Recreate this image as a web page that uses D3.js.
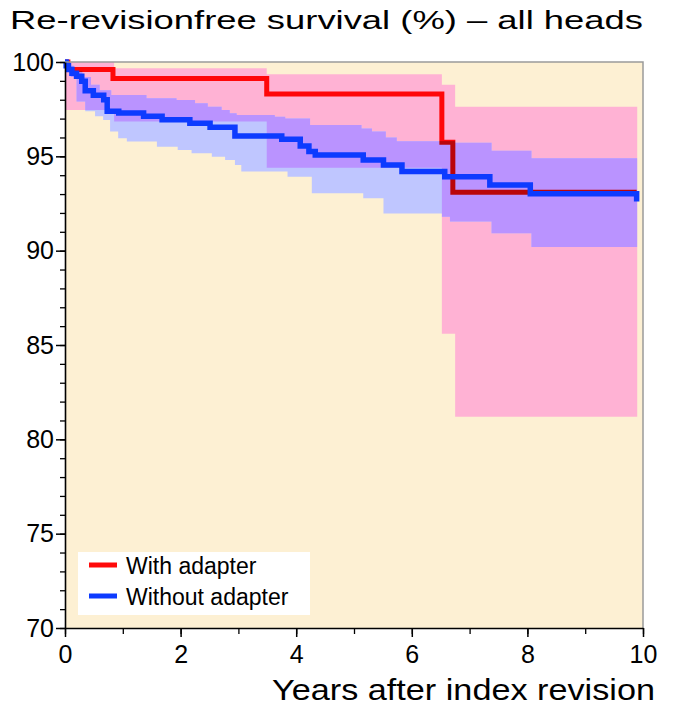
<!DOCTYPE html>
<html>
<head>
<meta charset="utf-8">
<script src="https://cdn.jsdelivr.net/npm/d3@7"></script>
<style>
  html, body { margin: 0; padding: 0; background: #fff; }
  svg text { font-family: "Liberation Sans", Arial, Helvetica, sans-serif; fill: #000; }
</style>
</head>
<body>
<svg id="chart" width="683" height="714"></svg>
<script>
// ---- Data ----
const titleText = "Re-revisionfree survival (%) \u2013 all heads";
const xTitle = "Years after index revision";
const xTicks = [0, 2, 4, 6, 8, 10];
const yTicks = [70, 75, 80, 85, 90, 95, 100];
const seriesNames = ["With adapter", "Without adapter"];

// With adapter: Kaplan-Meier step curve
const withTime = [0, 0.05, 0.83, 3.49, 6.52, 6.71, 9.89];
const withSurv = [100, 99.6, 99.12, 98.3, 95.74, 93.1, 93.1];
// With adapter: confidence band
const withHiTime = [0, 0.85, 3.49, 6.52, 6.75, 9.9];
const withHi = [100, 99.67, 99.35, 98.8, 97.63, 97.63];
const withLoTime = [0, 0.85, 3.49, 6.52, 6.75, 9.9];
const withLo = [97.45, 96.84, 94.4, 85.6, 81.2, 81.2];

// Without adapter: Kaplan-Meier step curve
const withoutTime = [0, 0.02, 0.06, 0.12, 0.2, 0.29, 0.35, 0.49, 0.67, 0.73, 0.93, 1.36, 1.68, 2.16, 2.51, 2.94, 3.75, 4.07, 4.22, 4.33, 5.16, 5.51, 5.83, 6.57, 7.35, 8.05, 9.89];
const withoutSurv = [100, 99.8, 99.6, 99.4, 99.24, 98.98, 98.48, 98.24, 98.0, 97.39, 97.3, 97.12, 96.94, 96.75, 96.54, 96.08, 95.9, 95.55, 95.25, 95.07, 94.81, 94.54, 94.19, 93.92, 93.48, 93.02, 92.6];
// Without adapter: confidence band
const withoutHiTime = [0, 0.05, 0.15, 0.3, 0.45, 0.6, 0.8, 1.41, 1.93, 2.25, 2.47, 2.71, 2.85, 2.97, 3.63, 3.81, 4.24, 5.13, 5.31, 5.55, 5.74, 6.75, 7.38, 8.07, 9.9];
const withoutHi = [100, 99.8, 99.5, 99.2, 98.8, 98.5, 98.25, 98.08, 97.99, 97.81, 97.63, 97.46, 97.28, 97.19, 97.1, 97.0, 96.66, 96.48, 96.31, 96.0, 95.8, 95.72, 95.3, 94.9, 94.9];
const withoutLoTime = [0, 0.1, 0.2, 0.35, 0.52, 0.66, 0.78, 0.92, 1.07, 1.59, 1.95, 2.19, 2.54, 2.77, 2.94, 3.05, 3.85, 4.27, 5.16, 5.51, 6.52, 6.66, 7.38, 8.07, 9.9];
const withoutLo = [99.7, 99.2, 97.9, 97.39, 97.12, 96.93, 96.31, 95.96, 95.78, 95.51, 95.34, 95.16, 94.98, 94.8, 94.54, 94.2, 93.92, 93.04, 92.78, 91.97, 91.8, 91.54, 90.92, 90.2, 90.2];

// ---- Styles ----
const C = {
  bg: "#FDF0D3", pink: "#FFB2D4", lightBlue: "#BFC6FF", purple: "#BA93FF",
  red: "#FF0A0A", blue: "#0D3BFF", frame: "#9a9a9a"
};

const svg = d3.select("#chart");
const x = d3.scaleLinear().domain([0, 10]).range([65, 643]);
const y = d3.scaleLinear().domain([70, 100]).range([628, 62]);

function zip(ts, vs) { return ts.map((t, i) => ({ t: t, v: vs[i] })); }
function stepLookup(ts, vs, t) {
  let idx = 0;
  for (let i = 0; i < ts.length; i++) if (ts[i] <= t) idx = i;
  return vs[idx];
}
function bandData(hiT, hi, loT, lo) {
  const times = Array.from(new Set(hiT.concat(loT))).sort((a, b) => a - b);
  return times.map(t => ({ t: t, hi: stepLookup(hiT, hi, t), lo: stepLookup(loT, lo, t) }));
}

const area = d3.area().curve(d3.curveStepAfter)
  .x(d => x(d.t)).y0(d => y(d.lo)).y1(d => y(d.hi));
const line = d3.line().curve(d3.curveStepAfter)
  .x(d => x(d.t)).y(d => y(d.v));

const pinkBand = bandData(withHiTime, withHi, withLoTime, withLo);
const blueBand = bandData(withoutHiTime, withoutHi, withoutLoTime, withoutLo);

// Plot background
svg.append("rect").attr("x", x(0)).attr("y", y(100))
  .attr("width", x(10) - x(0)).attr("height", y(70) - y(100)).attr("fill", C.bg);

const defs = svg.append("defs");
defs.append("clipPath").attr("id", "pinkClip")
  .append("path").attr("d", area(pinkBand));

const plot = svg.append("g").style("isolation", "isolate");
plot.append("path").attr("d", area(pinkBand)).attr("fill", C.pink);
plot.append("path").attr("d", area(blueBand)).attr("fill", C.lightBlue);
plot.append("path").attr("d", area(blueBand)).attr("fill", C.purple).attr("clip-path", "url(#pinkClip)");

plot.append("path").datum(zip(withTime, withSurv)).attr("d", line)
  .attr("fill", "none").attr("stroke", C.red).attr("stroke-width", 5)
  .style("mix-blend-mode", "multiply");
plot.append("path").datum(zip(withoutTime, withoutSurv)).attr("d", line)
  .attr("fill", "none").attr("stroke", C.blue).attr("stroke-width", 5.5);

// Frame (top & right)
svg.append("path")
  .attr("d", `M${x(0)},${y(100)}H${x(10)}V${y(70)}`)
  .attr("fill", "none").attr("stroke", C.frame).attr("stroke-width", 1.5);

// Y axis
const yMinor = d3.range(70, 101, 1);
svg.append("g").attr("transform", `translate(${x(0)},0)`)
  .call(d3.axisLeft(y).tickValues(yMinor).tickSize(5).tickSizeOuter(0).tickFormat(""))
  .call(g => g.select(".domain").remove())
  .call(g => g.selectAll("line").attr("stroke", "#000").attr("stroke-width", 1.3));
svg.append("g").attr("transform", `translate(${x(0)},0)`)
  .call(d3.axisLeft(y).tickValues(yTicks).tickSize(9).tickSizeOuter(0).tickPadding(2))
  .call(g => g.select(".domain").attr("stroke", "#000").attr("stroke-width", 1.6))
  .call(g => g.selectAll("line").attr("stroke", "#000").attr("stroke-width", 1.5))
  .call(g => g.selectAll("text").attr("font-size", 25).attr("fill", "#000")
    .attr("font-family", "'Liberation Sans', Arial, sans-serif"));

// X axis
const xMinor = d3.range(0, 11, 1);
svg.append("g").attr("transform", `translate(0,${y(70)})`)
  .call(d3.axisBottom(x).tickValues(xMinor).tickSize(6).tickSizeOuter(0).tickFormat(""))
  .call(g => g.select(".domain").remove())
  .call(g => g.selectAll("line").attr("stroke", "#000").attr("stroke-width", 1.3));
svg.append("g").attr("transform", `translate(0,${y(70)})`)
  .call(d3.axisBottom(x).tickValues(xTicks).tickSize(9).tickSizeOuter(0).tickPadding(8))
  .call(g => g.select(".domain").attr("stroke", "#000").attr("stroke-width", 1.6))
  .call(g => g.selectAll("line").attr("stroke", "#000").attr("stroke-width", 1.5))
  .call(g => g.selectAll("text").attr("font-size", 25).attr("fill", "#000")
    .attr("font-family", "'Liberation Sans', Arial, sans-serif"));

// Titles
svg.append("text").attr("x", 10).attr("y", 29)
  .attr("font-size", 26).attr("textLength", 633).attr("lengthAdjust", "spacingAndGlyphs")
  .text(titleText);
svg.append("text").attr("x", 272).attr("y", 700)
  .attr("font-size", 30).attr("textLength", 383).attr("lengthAdjust", "spacingAndGlyphs")
  .text(xTitle);

// Legend
const leg = svg.append("g");
leg.append("rect").attr("x", 78).attr("y", 552).attr("width", 232).attr("height", 63).attr("fill", "#fff");
const legColors = [C.red, C.blue];
const legY = [565, 596];
seriesNames.forEach((name, i) => {
  leg.append("line").attr("x1", 89).attr("x2", 117).attr("y1", legY[i]).attr("y2", legY[i])
    .attr("stroke", legColors[i]).attr("stroke-width", 5);
  leg.append("text").attr("x", 126).attr("y", legY[i] + 9).attr("font-size", 23).text(name);
});
</script>
</body>
</html>
